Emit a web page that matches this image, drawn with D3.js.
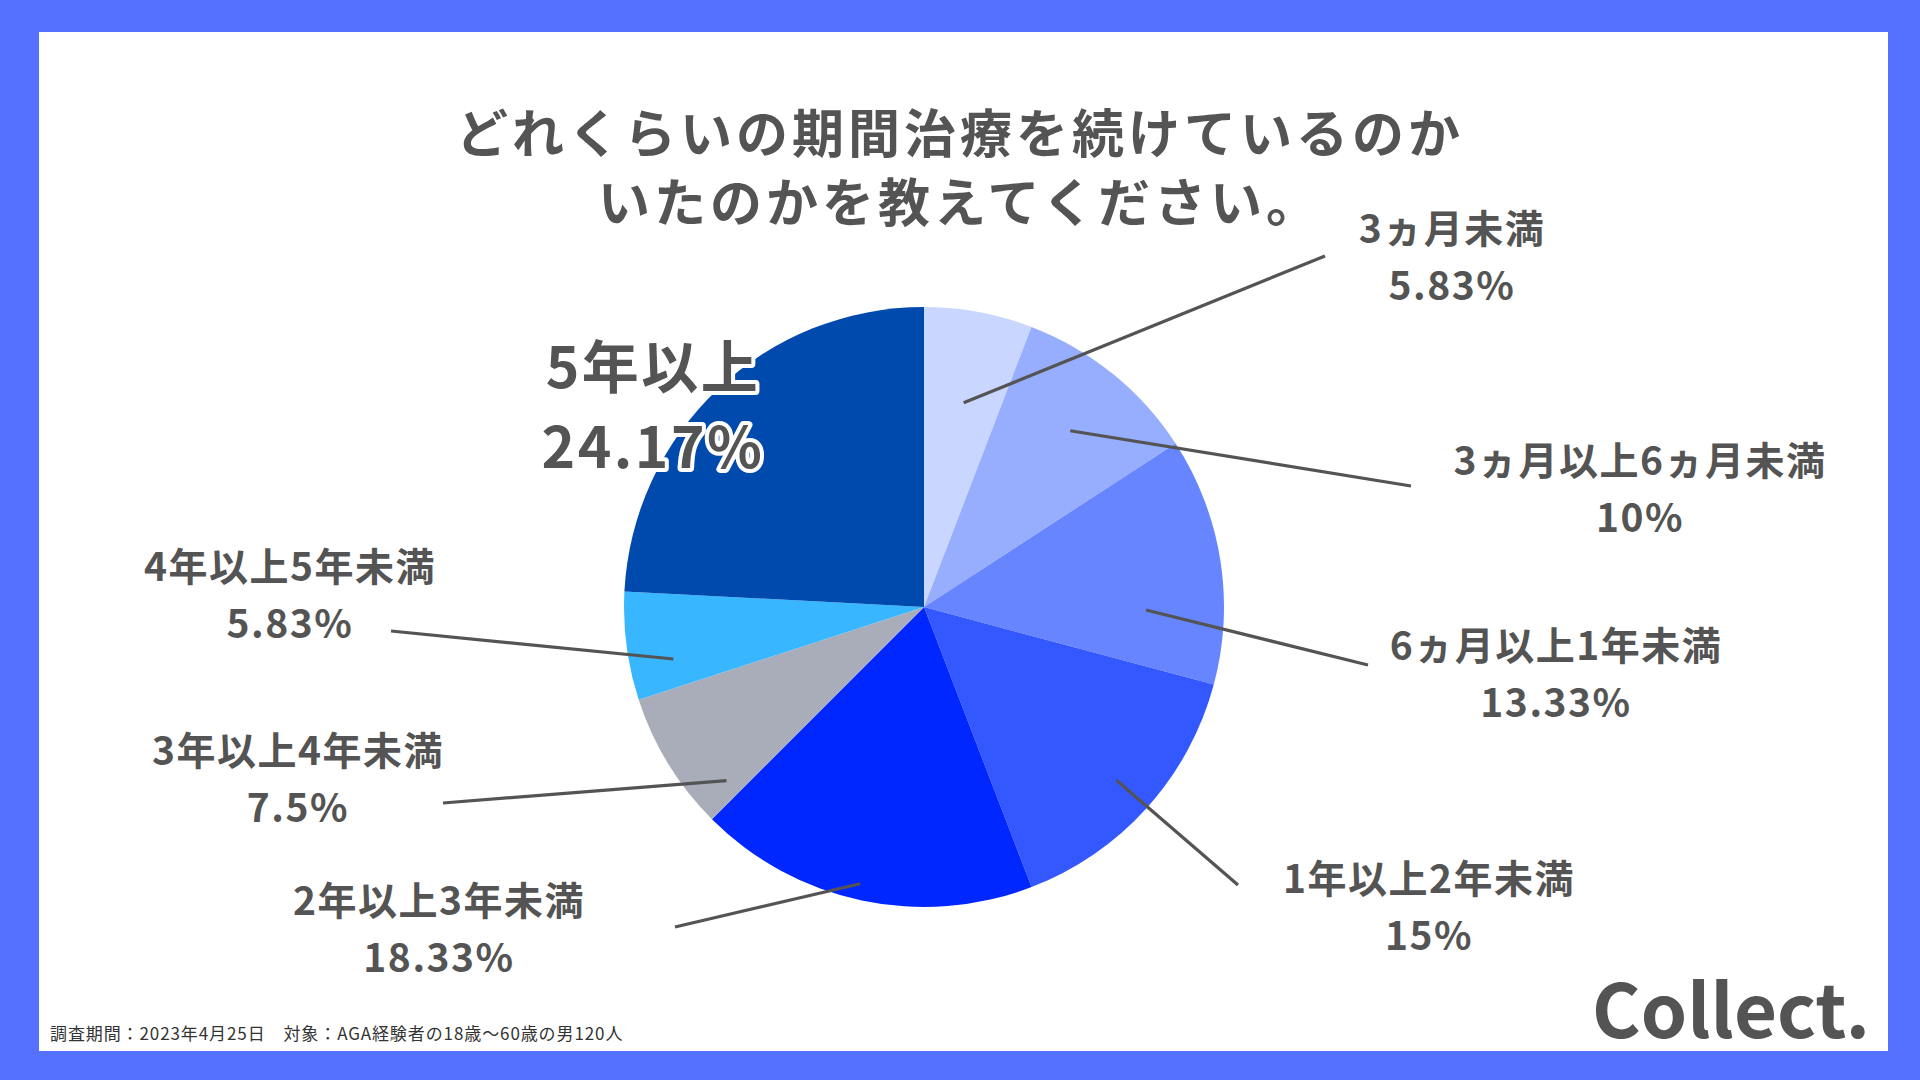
<!DOCTYPE html>
<html>
<head>
<meta charset="utf-8">
<script src="https://cdn.jsdelivr.net/npm/d3@7"></script>
<style>
  body { margin: 0; background: #fff; }
  text { font-family: "Noto Sans CJK JP", "Noto Sans", sans-serif; }
</style>
</head>
<body>
<script>
// データ
const categories = ["3ヵ月未満", "3ヵ月以上6ヵ月未満", "6ヵ月以上1年未満", "1年以上2年未満",
                    "2年以上3年未満", "3年以上4年未満", "4年以上5年未満", "5年以上"];
const values = [5.83, 10, 13.33, 15, 18.33, 7.5, 5.83, 24.17];
const valueLabels = ["5.83%", "10%", "13.33%", "15%", "18.33%", "7.5%", "5.83%", "24.17%"];
const colors = ["#c9d6ff", "#97aefe", "#6685ff", "#3358ff", "#0027ff", "#a9adb9", "#38b6ff", "#004aad"];
const titleLines = ["どれくらいの期間治療を続けているのか", "いたのかを教えてください。"];
const footnote = "調査期間：2023年4月25日　対象：AGA経験者の18歳〜60歳の男120人";

// ラベル配置 (ラベル中心, 引出線の終点, 引出線の始点の半径/角度ずれ)
const labelLayout = [
  { x: 1452, y: 243, ex: 1325, ey: 256, r: 208, da: 0.5 },
  { x: 1640, y: 475, ex: 1411, ey: 486, r: 229, da: 0.7 },
  { x: 1556, y: 660, ex: 1368, ey: 665, r: 222, da: 9.8 },
  { x: 1429, y: 893, ex: 1238, ey: 885, r: 259, da: 0 },
  { x: 439,  y: 915, ex: 675,  ey: 927, r: 284, da: 1 },
  { x: 298,  y: 765, ex: 443,  ey: 803, r: 263, da: -9.8 },
  { x: 290,  y: 581, ex: 391,  ey: 631, r: 256, da: -4.2 },
  { x: 653,  y: 388, big: true }
];

const W = 1920, H = 1080;
const cx = 924, cy = 607, radius = 300;
const ink = "#545454";

const svg = d3.select("body").append("svg")
    .attr("width", W)
    .attr("height", H);

// 枠
svg.append("rect").attr("width", W).attr("height", H).attr("fill", "#5571ff");
svg.append("rect").attr("x", 39).attr("y", 32).attr("width", 1849).attr("height", 1019).attr("fill", "#fff");

// タイトル
svg.selectAll(".title")
    .data(titleLines)
    .enter().append("text")
    .attr("class", "title")
    .attr("x", 960)
    .attr("y", (d, i) => 153 + i * 69)
    .attr("text-anchor", "middle")
    .attr("font-size", 52)
    .attr("font-weight", 700)
    .attr("letter-spacing", 4)
    .attr("fill", ink)
    .text(d => d);

// 円グラフ
const pie = d3.pie().sort(null).value(d => d);
const arc = d3.arc().innerRadius(0).outerRadius(radius);
const arcs = pie(values);

const g = svg.append("g").attr("transform", "translate(" + cx + "," + cy + ")");

g.selectAll(".slice")
    .data(arcs)
    .enter().append("path")
    .attr("class", "slice")
    .attr("d", arc)
    .attr("fill", (d, i) => colors[i]);

// 引出線
arcs.forEach((a, i) => {
    const L = labelLayout[i];
    if (L.big) return;
    const ang = (a.startAngle + a.endAngle) / 2 + L.da * Math.PI / 180;
    const x0 = cx + L.r * Math.sin(ang);
    const y0 = cy - L.r * Math.cos(ang);
    svg.append("line")
        .attr("x1", x0).attr("y1", y0)
        .attr("x2", L.ex).attr("y2", L.ey)
        .attr("stroke", ink)
        .attr("stroke-width", 3.2);
});

// ラベル
arcs.forEach((a, i) => {
    const L = labelLayout[i];
    const fs = L.big ? 57 : 39;
    const gap = L.big ? 80 : 57;
    const t = svg.append("text")
        .attr("text-anchor", "middle")
        .attr("font-size", fs)
        .attr("font-weight", 700)
        .attr("letter-spacing", L.big ? 2.5 : 1.5)
        .attr("fill", ink);
    if (L.big) {
        t.attr("stroke", "#fff").attr("stroke-width", 8)
         .attr("paint-order", "stroke").attr("stroke-linejoin", "round");
    }
    t.append("tspan").attr("x", L.x).attr("y", L.y).text(categories[i]);
    t.append("tspan").attr("x", L.x).attr("y", L.y + gap).text(valueLabels[i]);
});

// 注記
svg.append("text")
    .attr("x", 50)
    .attr("y", 1040)
    .attr("font-size", 17)
    .attr("letter-spacing", 0.9)
    .attr("font-family", "'Liberation Serif', 'Noto Sans CJK JP', serif")
    .attr("fill", "#333")
    .text(footnote);

// ロゴ
svg.append("text")
    .attr("x", 1592)
    .attr("y", 1038)
    .attr("font-size", 74)
    .attr("font-weight", 700)
    .attr("font-family", "'DejaVu Serif', serif")
    .attr("textLength", 278)
    .attr("lengthAdjust", "spacingAndGlyphs")
    .attr("fill", ink)
    .text("Collect.");
</script>
</body>
</html>
